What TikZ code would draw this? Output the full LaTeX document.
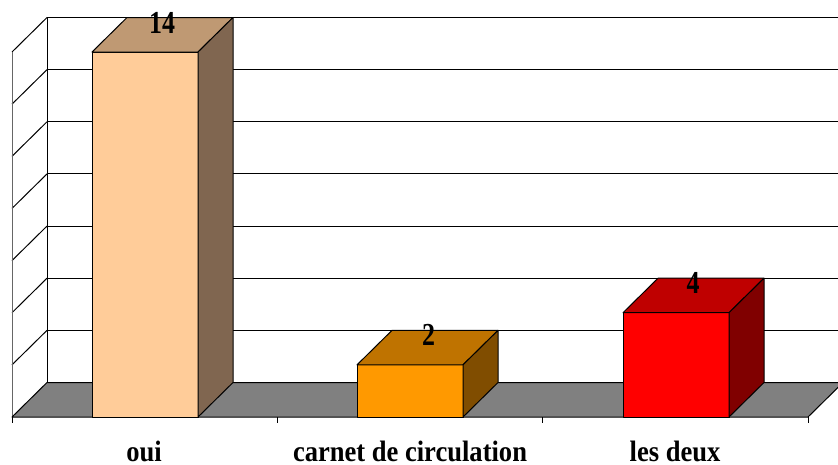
\documentclass[tikz,border=0pt]{standalone}
\usepackage{graphicx}
\usepackage{fontspec}
\setmainfont{Liberation Serif}
\definecolor{peachF}{HTML}{FFCC99}
\definecolor{peachT}{HTML}{BF9973}
\definecolor{peachS}{HTML}{806650}
\definecolor{orangeF}{HTML}{FF9900}
\definecolor{orangeT}{HTML}{BF7300}
\definecolor{orangeS}{HTML}{804D00}
\definecolor{redF}{HTML}{FF0000}
\definecolor{redT}{HTML}{BF0000}
\definecolor{redS}{HTML}{800000}
\definecolor{floorgray}{HTML}{808080}
\newcommand\mybar[5]{%
  \pgfmathsetmacro\bt{417-#2*26.07}%
  \filldraw[fill=#3] (#1,417) rectangle ({#1+106},\bt);
  \filldraw[fill=#4] (#1,\bt) -- ({#1+35},{\bt-34.5}) -- ({#1+141},{\bt-34.5}) -- ({#1+106},\bt) -- cycle;
  \filldraw[fill=#5] ({#1+106},\bt) -- ({#1+141},{\bt-34.5}) -- ({#1+141},382.5) -- ({#1+106},417) -- cycle;
}
\begin{document}
\begin{tikzpicture}[x=1pt,y=-1pt,line join=round,line width=1pt,
  vlab/.style={anchor=base,inner sep=0pt,font=\fontsize{32}{32}\selectfont\bfseries},
  clab/.style={anchor=base,inner sep=0pt,font=\fontsize{29.5}{30}\selectfont\bfseries}]
\useasboundingbox (0,0) rectangle (838,464);
\clip (0,0) rectangle (838,464);
% back wall grid and left wall
\foreach \i in {0,...,6} {
  \pgfmathsetmacro\g{17.5+\i*52.14}
  \draw (47,\g) -- (838,\g);
  \draw (12,{\g+34.5}) -- (47,\g);
}
\draw[black!60] (12,52) -- (12,417);
\draw (47,17.5) -- (47,382.5);
% floor
\filldraw[fill=floorgray] (12,417) -- (47,382.5) -- (843,382.5) -- (808,417) -- cycle;
\foreach \x in {12,277,542,808} \draw (\x,417) -- (\x,423);
% bars
\mybar{92}{14}{peachF}{peachT}{peachS}
\mybar{357}{2}{orangeF}{orangeT}{orangeS}
\mybar{623}{4}{redF}{redT}{redS}
% value labels
\node[vlab] (v1) at (162,33) {\scalebox{0.81}[1]{14}};
\node[vlab] (v2) at (428.5,345) {\scalebox{0.81}[1]{2}};
\node[vlab] (v3) at (693,293) {\scalebox{0.81}[1]{4}};
% category labels
\node[clab] (c1) at (144,461) {\scalebox{0.9}[1]{oui}};
\node[clab] (c2) at (410,461) {\scalebox{0.9}[1]{carnet de circulation}};
\node[clab] (c3) at (675,461) {\scalebox{0.9}[1]{les deux}};
\end{tikzpicture}
\end{document}
